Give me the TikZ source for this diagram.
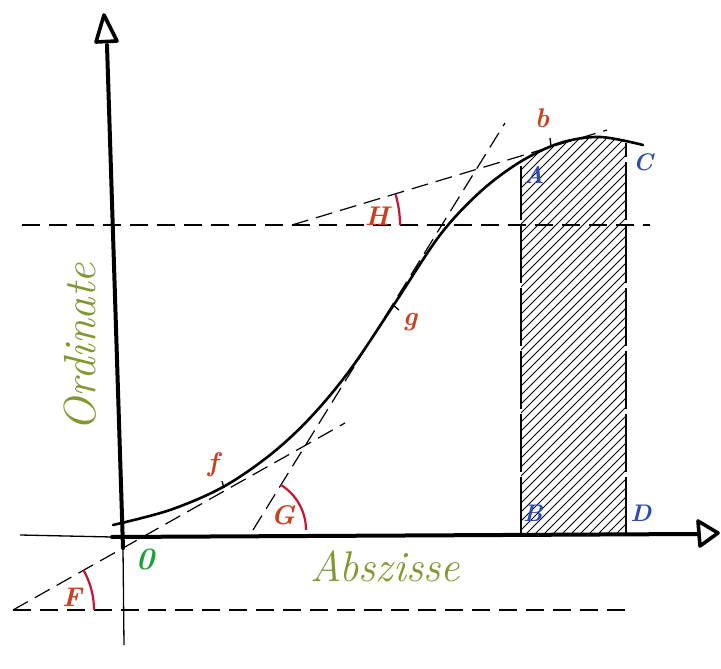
\documentclass[tikz,border=0pt]{standalone}
\usetikzlibrary{angles}
\definecolor{lblred}{RGB}{205,62,32}
\definecolor{arcred}{RGB}{200,22,48}
\definecolor{lblblue}{RGB}{45,75,180}
\definecolor{lblgreen}{RGB}{25,160,55}
\definecolor{wordolive}{RGB}{128,152,45}
\tikzset{
  axisline/.style={line width=4pt, line cap=round, line join=round},
  thinaxis/.style={line width=1.3pt},
  arrowtri/.style={line width=3.6pt, line join=round, fill=white},
  curveline/.style={line width=2.6pt, line cap=round},
  refdash/.style={line width=1.3pt, dash pattern=on 18pt off 9pt},
  tandash/.style={line width=1.2pt, dash pattern=on 17pt off 8pt},
  sidedash/.style={line width=1.4pt, dash pattern=on 58pt off 5pt},
  hatchline/.style={line width=0.8pt},
  tickmark/.style={line width=1.3pt},
  anglearc/.style={draw=arcred, line width=2.2pt},
  redlbl/.style={text=lblred, font=\fontsize{27}{29}\selectfont\bfseries\itshape, inner sep=0pt},
  bluelbl/.style={text=lblblue, font=\fontsize{24}{26}\selectfont\bfseries\itshape, inner sep=0pt},
  greenlbl/.style={text=lblgreen, font=\fontsize{31}{33}\selectfont\bfseries\itshape, inner sep=0pt},
  wordlbl/.style={text=wordolive, font=\fontsize{43}{47}\selectfont\itshape, inner sep=0pt}
}
\begin{document}
\begin{tikzpicture}[x=1pt,y=-1pt]
\useasboundingbox (0,0) rectangle (721,669);
\fill[white] (0,0) rectangle (721,669);

% reference coordinates
\coordinate (Fo) at (13,610);
\coordinate (Fe) at (345,423);
\coordinate (Fr) at (130,610);
\coordinate (Go) at (253,530);
\coordinate (Ge) at (505,123);
\coordinate (Gr) at (330,530);
\coordinate (Ho) at (292,225);
\coordinate (He) at (607,130);
\coordinate (Hr) at (420,225);

% hatching under the curve
\begin{scope}
\clip (521,100) rectangle (626,535);
\clip plot[smooth, tension=0.55] coordinates {(113,525) (170,510) (223,487) (270,455) (310,418) (350,370) (395,303) (440,235) (480,192) (520,162) (560,143) (600,137) (643,145)} -- (643,540) -- (113,540) -- cycle;
\foreach \k in {0,...,58} \draw[hatchline] ({120+9*\k},535) -- ++(420,-420);
\end{scope}

% horizontal reference lines
\coordinate (hl1) at (22,225);
\coordinate (hl2) at (650,225);
\draw[refdash] (hl1) -- (hl2);
\coordinate (hl3) at (632,610);
\draw[refdash] (Fo) -- (hl3);

% tangents
\draw[tandash] (Fo) -- (Fe);
\draw[tandash] (Go) -- (Ge);
\draw[tandash] (Ho) -- (He);

% angle arcs
\pic[anglearc, angle radius=81pt] {angle = Fr--Fo--Fe};
\pic[anglearc, angle radius=53pt] {angle = Gr--Go--Ge};
\pic[anglearc, angle radius=108pt] {angle = Hr--Ho--He};

% rectangle sides
\coordinate (Bp) at (521,535);
\coordinate (Ap) at (521,166);
\coordinate (Dp) at (626,535);
\coordinate (Cp) at (626,143);
\draw[sidedash] (Bp) -- (Ap);
\draw[sidedash] (Dp) -- (Cp);

% axes
\coordinate (ytop) at (107,45);
\coordinate (yo) at (123,548);
\coordinate (ybot) at (124,645);
\draw[axisline] (ytop) -- (yo);
\draw[thinaxis] (yo) -- (ybot);
\coordinate (xl) at (20,535);
\coordinate (xo) at (112,537);
\coordinate (xr) at (697,534);
\draw[thinaxis] (xl) -- (xo);
\draw[axisline] (xo) -- (xr);
\draw[arrowtri] (104,15) -- (96,42) -- (117,41) -- cycle;
\draw[arrowtri] (698,521) -- (718,533) -- (700,546) -- cycle;

% curve
\draw[curveline] plot[smooth, tension=0.55] coordinates {(113,525) (170,510) (223,487) (270,455) (310,418) (350,370) (395,303) (440,235) (480,192) (520,162) (560,143) (600,137) (643,145)};

% tick marks
\draw[tickmark] (222,481) -- (224,488);
\draw[tickmark] (393,305) -- (399,310);
\draw[tickmark] (550,138) -- (551,146);

% labels
\node[redlbl] (lF) at (72,597) {F};
\node[redlbl] (lG) at (283,515) {G};
\node[redlbl] (lH) at (377,216) {H};
\node[redlbl] (lf) at (213,465) {f};
\node[redlbl] (lg) at (410,322) {g};
\node[redlbl] (lb) at (542,118) {b};
\node[bluelbl] (lA) at (534,175) {A};
\node[bluelbl] (lC) at (643,162) {C};
\node[bluelbl] (lB) at (533,513) {B};
\node[bluelbl] (lD) at (641,513) {D};
\node[greenlbl] (l0) at (145,560) {0};
\node[wordlbl] (abs) at (385,566) {Abszisse};
\node[wordlbl, font=\fontsize{45}{49}\selectfont\itshape, rotate=90] (ord) at (80,347) {Ordinate};
\end{tikzpicture}
\end{document}
